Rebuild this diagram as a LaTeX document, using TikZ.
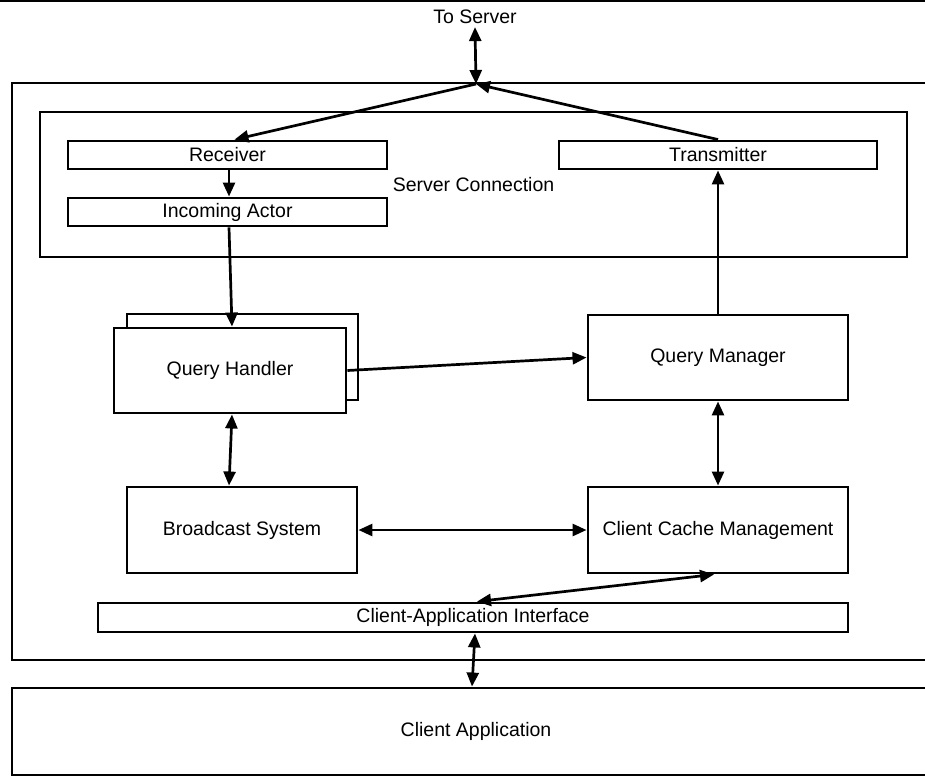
\documentclass[tikz,border=0pt]{standalone}
\usepackage{fontspec}
\setmainfont{Liberation Sans}
\usetikzlibrary{arrows.meta}

\begin{document}
\begin{tikzpicture}[x=1pt,y=-1pt,
  box/.style={draw,line width=2.9pt,fill=white,inner sep=0pt,
    font=\fontsize{19.5}{22}\selectfont},
  conn/.style={line width=2.7pt,-{Triangle[length=14pt,width=12pt]}},
  dconn/.style={line width=2.7pt,{Triangle[length=14pt,width=12pt]}-{Triangle[length=14pt,width=12pt]}},
  lbl/.style={inner sep=0pt,font=\fontsize{19.5}{22}\selectfont}]
  \useasboundingbox (0,0) rectangle (925,776);
  \clip (0,0) rectangle (925,776);

  % frame rule along the top
  \draw[line width=1.8pt] (0,1) -- (925,1);

  % enclosing client block and the client application below it
  \node[box,minimum width=928pt,minimum height=577pt] (client) at (476,371.5) {};
  \node[box,minimum width=928pt,minimum height=87pt] (app) at (476,731.5) {Client Application};

  \node[lbl] (server) at (475,17) {To Server};

  % server connection with its two endpoints
  \node[box,minimum width=867pt,minimum height=145pt] (sconn) at (473.5,184.5) {Server Connection};
  \node[box,minimum width=319pt,minimum height=28pt] (recv) at (227.5,155) {Receiver};
  \node[box,minimum width=319pt,minimum height=28pt] (inact) at (227.5,212) {Incoming Actor};
  \node[box,minimum width=318pt,minimum height=28pt] (trans) at (718,155) {Transmitter};

  % stacked query handlers
  \node[box,minimum width=231pt,minimum height=86pt] (qhback) at (242.5,357) {};
  \node[box,minimum width=232pt,minimum height=85pt] (qh) at (230,370.5) {Query Handler};

  \node[box,minimum width=260pt,minimum height=85pt] (qm) at (718,357.5) {Query Manager};
  \node[box,minimum width=230pt,minimum height=86pt] (bs) at (242,530) {Broadcast System};
  \node[box,minimum width=260pt,minimum height=86pt] (ccm) at (718,530) {Client Cache Management};
  \node[box,minimum width=750pt,minimum height=29pt] (cai) at (473,617.5) {Client-Application Interface};

  \coordinate (apex) at (476,84);

  % connectors
  \draw[dconn] (server.south) ++(0,3) -- (apex);
  \draw[conn] (apex) -- ([xshift=7pt]recv.north);
  \draw[conn] (trans.north) -- (apex);
  \draw[conn] ([xshift=1.5pt]recv.south) -- ([xshift=1.5pt]inact.north);
  \draw[conn] ([xshift=1.5pt]inact.south) -- ([xshift=2pt]qh.north);
  \draw[conn] (qh.east) -- (qm.west);
  \draw[conn] (qm.north) -- (trans.south);
  \draw[dconn] ([xshift=2pt]qh.south) -- ([xshift=-13pt]bs.north);
  \draw[dconn] (qm.south) -- (ccm.north);
  \draw[dconn] (bs.east) -- (ccm.west);
  \draw[dconn] ([xshift=-4pt]ccm.south) -- ([xshift=4pt]cai.north);
  \draw[dconn] ([xshift=2pt]cai.south) -- ([xshift=-1pt]cai.south |- app.north);
\end{tikzpicture}
\end{document}
